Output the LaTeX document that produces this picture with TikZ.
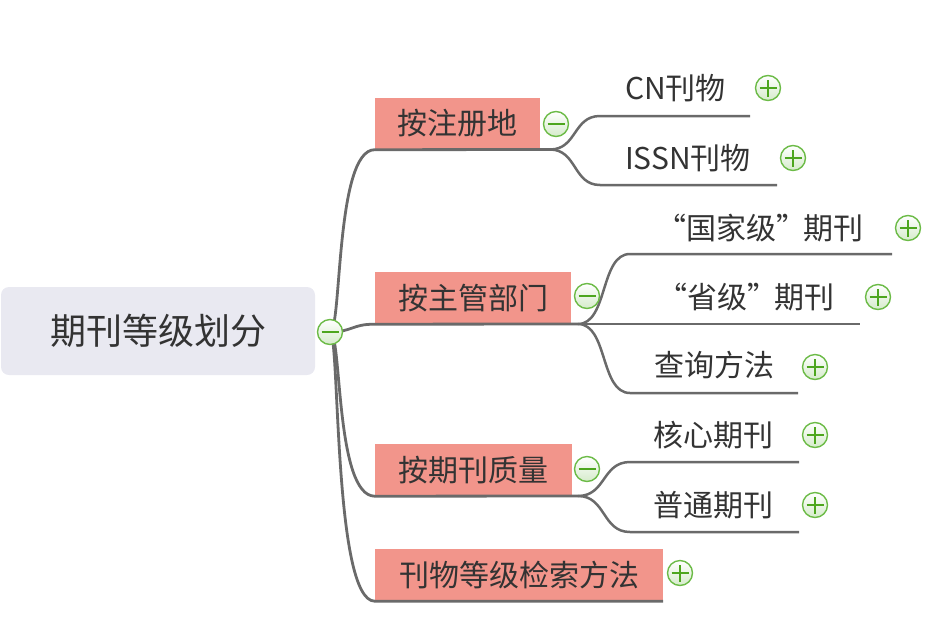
\documentclass[tikz,border=0pt]{standalone}
\usepackage{fontspec}
\setmainfont{Noto Sans CJK SC}
\definecolor{salmon}{HTML}{F2958B}
\definecolor{rootfill}{HTML}{E9E9F1}
\definecolor{linegray}{HTML}{6A6A6A}
\definecolor{txt}{HTML}{333333}
\definecolor{tgreen}{HTML}{6CBB47}
\definecolor{sgreen}{HTML}{4DA61E}
\definecolor{lgreen}{HTML}{D5EBCB}
\newcommand{\oq}{\makebox[0.45em][r]{“}}
\newcommand{\cq}{\makebox[0.9em][l]{”}}
\begin{document}
\begin{tikzpicture}[x=1pt,y=-1pt,
 rootbox/.style={fill=rootfill, rounded corners=8pt, minimum width=314pt, minimum height=88pt, inner sep=0pt, text=txt, font=\fontsize{36}{40}\selectfont},
 branchbox/.style={fill=salmon, minimum height=52pt, inner sep=0pt, text=txt, font=\fontsize{30}{34}\selectfont},
 leaftext/.style={text=txt, font=\fontsize{30}{34}\selectfont, inner sep=0pt},
 mainline/.style={draw=linegray, line width=2.8pt},
 subline/.style={draw=linegray, line width=2.5pt},
 togglebase/.style={circle, draw=tgreen, line width=1.4pt, minimum size=25pt, inner sep=0pt, top color=white, bottom color=lgreen},
 minusbtn/.style={togglebase, path picture={\draw[sgreen, line width=2.2pt] ([xshift=-8.5pt]path picture bounding box.center) -- ([xshift=8.5pt]path picture bounding box.center);}},
 plusbtn/.style={togglebase, path picture={\draw[sgreen, line width=2pt] ([xshift=-8.5pt]path picture bounding box.center) -- ([xshift=8.5pt]path picture bounding box.center) ([yshift=-8.5pt]path picture bounding box.center) -- ([yshift=8.5pt]path picture bounding box.center);}}
]
\useasboundingbox (0,0) rectangle (928,627);

% root
\node[rootbox] (root) at (158,331) {期刊等级划分};
\coordinate (rootc) at (330,332);

% branches
\node[branchbox, minimum width=165pt] (b1) at (457.5,123.5) {按注册地};
\node[branchbox, minimum width=196pt] (b2) at (473,298) {按主管部门};
\node[branchbox, minimum width=197pt] (b3) at (473.5,470) {按期刊质量};
\node[branchbox, minimum width=288pt] (b4) at (519,575) {刊物等级检索方法};

% split points
\coordinate (b1s) at (550,149.5);
\coordinate (b2s) at (578,324);
\coordinate (b3s) at (578,496);

% leaves
\node[leaftext] (c1) at (675.5,88) {CN刊物};
\node[leaftext] (c2) at (688,158) {ISSN刊物};
\node[leaftext] (c3) at (768,228) {\oq 国家级\cq 期刊};
\node[leaftext] (c4) at (754,297) {\oq 省级\cq 期刊};
\node[leaftext] (c5) at (714,365) {查询方法};
\node[leaftext] (c6) at (713,435) {核心期刊};
\node[leaftext] (c7) at (713,505) {普通期刊};

% leaf underline ends
\coordinate (c1s) at (600,116);   \coordinate (c1e) at (750,116);
\coordinate (c2s) at (600,185);   \coordinate (c2e) at (777,185);
\coordinate (c3s) at (630,254);   \coordinate (c3e) at (892,254);
\coordinate (c4e) at (860,324);
\coordinate (c5s) at (630,393);   \coordinate (c5e) at (798,393);
\coordinate (c6s) at (630,462);   \coordinate (c6e) at (799,462);
\coordinate (c7s) at (630,532);   \coordinate (c7e) at (799,532);

% main connectors
\draw[mainline] (rootc) .. controls (342,332) and (335,149.5) .. (b1.south west) -- (b1s);
\draw[mainline] (rootc) .. controls (352,332) and (352,324) .. (b2.south west) -- (b2s);
\draw[mainline] (rootc) .. controls (342,332) and (335,496) .. (b3.south west) -- (b3s);
\draw[mainline] (rootc) .. controls (340,332) and (333,601) .. (b4.south west) -- (b4.south east);

% sub connectors
\draw[subline] (b1s) .. controls (577,149.5) and (573,116) .. (c1s) -- (c1e);
\draw[subline] (b1s) .. controls (577,149.5) and (573,185) .. (c2s) -- (c2e);
\draw[subline] (b2s) .. controls (608,324) and (600,254) .. (c3s) -- (c3e);
\draw[subline] (b2s) -- (c4e);
\draw[subline] (b2s) .. controls (608,324) and (600,393) .. (c5s) -- (c5e);
\draw[subline] (b3s) .. controls (606,496) and (602,462) .. (c6s) -- (c6e);
\draw[subline] (b3s) .. controls (606,496) and (602,532) .. (c7s) -- (c7e);

% toggles
\node[minusbtn] (t0) at (rootc) {};
\node[minusbtn] (t1) at (556,124) {};
\node[minusbtn] (t2) at (587,296) {};
\node[minusbtn] (t3) at (587,469) {};
\node[plusbtn] (t4) at (680,573) {};
\node[plusbtn] (p1) at (768,88) {};
\node[plusbtn] (p2) at (793,158) {};
\node[plusbtn] (p3) at (908,228) {};
\node[plusbtn] (p4) at (878,297) {};
\node[plusbtn] (p5) at (815,367) {};
\node[plusbtn] (p6) at (815,435) {};
\node[plusbtn] (p7) at (815,505) {};
\end{tikzpicture}
\end{document}
